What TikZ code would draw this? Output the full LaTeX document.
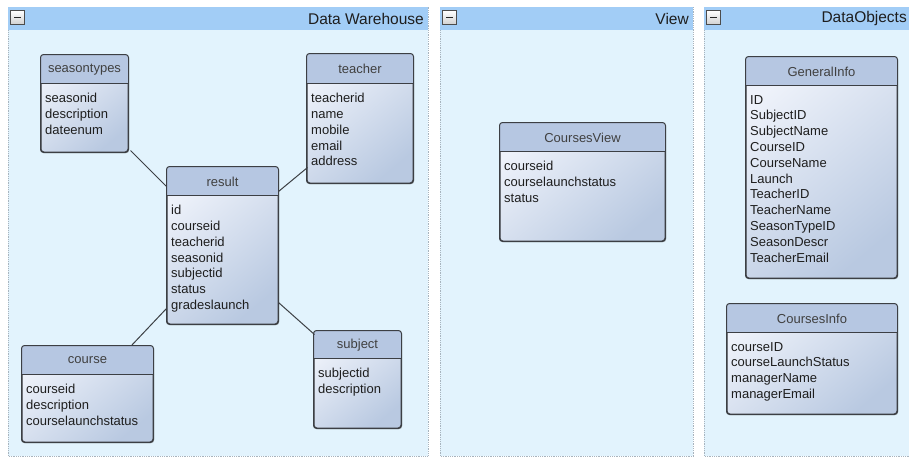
\documentclass[tikz,border=0pt]{standalone}
\usepackage{fontspec}
\setmainfont{Liberation Sans}
\usetikzlibrary{fit,shadows,calc}

\definecolor{panelbg}{HTML}{E2F3FD}
\definecolor{panelhd}{HTML}{A2CDF6}
\definecolor{panelln}{HTML}{A8B4BE}
\definecolor{tblhd}{HTML}{B6C7E2}
\definecolor{tbltop}{HTML}{EEF2FA}
\definecolor{tblbot}{HTML}{B9C9E1}
\definecolor{tblln}{HTML}{3C3F44}
\definecolor{txt}{HTML}{1E1E1E}

\tikzset{
  paneltitle/.style={anchor=east, font=\fontsize{15.5}{18}\selectfont, text=txt, inner sep=0pt},
  tblframe/.style={draw=tblln, line width=1pt, rounded corners=3pt, inner sep=0pt,
    top color=tbltop, bottom color=tblbot, shading angle=40,
    drop shadow={shadow xshift=1.2pt, shadow yshift=-1.2pt, opacity=0.35}},
  tbltitle/.style={font=\fontsize{13}{15}\selectfont, text=txt!85, inner sep=0pt},
  tblfields/.style={anchor=north west, align=left, font=\fontsize{13}{15.8}\selectfont,
    text=txt, inner sep=0pt},
  link/.style={draw=tblln, line width=1pt},
  minusbox/.style={draw=black!70, line width=0.8pt, top color=white, bottom color=black!18,
    minimum size=14pt, inner sep=0pt},
}

% #1 name, #2 left, #3 top, #4 right, #5 header line, #6 bottom, #7 title, #8 fields
\newcommand\dbtable[8]{%
  \coordinate (#1-nw) at (#2,#3);
  \coordinate (#1-se) at (#4,#6);
  \node[tblframe, fit=(#1-nw)(#1-se)] (#1) {};
  \begin{scope}
    \clip[rounded corners=3pt] (#1.north west) rectangle (#1.south east);
    \fill[tblhd] (#1.north west) rectangle (#4,#5);
  \end{scope}
  \draw[tblln, line width=1pt] (#2,#5) -- (#4,#5);
  \draw[tblln, line width=1pt, rounded corners=3pt] (#1.north west) rectangle (#1.south east);
  \node[tbltitle] (#1-title) at ({(#2+#4)/2},{(#3+#5)/2+0.5}) {#7};
  \node[tblfields] (#1-fields) at ({#2+4},{#5+10}) {#8};
}

% #1 name, #2 left, #3 right, #4 title
\newcommand\dbpanel[4]{%
  \fill[panelbg] (#2,7) rectangle (#3,456);
  \draw[panelln, densely dotted, line width=0.8pt] (#2,7) rectangle (#3,456);
  \fill[panelhd] (#2,7) rectangle (#3,29.5);
  \node[minusbox] (#1-btn) at ({#2+9.5},17.5) {};
  \draw[black!85, line width=1.8pt] ({#2+6},17.5) -- ({#2+13},17.5);
  \node[paneltitle] (#1-title) at ({#3-4},18.5) {#4};
}

\begin{document}
\begin{tikzpicture}[x=1pt, y=-1pt]
  \useasboundingbox (0,0) rectangle (909,459);
  \clip (0,0) rectangle (909,459);
  \fill[white] (0,0) rectangle (909,459);

  % panels
  \dbpanel{dw}{8}{428}{Data Warehouse}
  \dbpanel{vw}{440}{693}{View}
  \dbpanel{dobj}{704}{911}{DataObjects}

  % Data Warehouse tables
  \dbtable{seasontypes}{41}{55}{128}{83}{152}{seasontypes}{seasonid\\description\\dateenum}
  \dbtable{teacher}{307}{54}{413}{83}{183}{teacher}{teacherid\\name\\mobile\\email\\address}
  \dbtable{result}{167}{167}{278}{195}{324}{result}{id\\courseid\\teacherid\\seasonid\\subjectid\\status\\gradeslaunch}
  \dbtable{course}{22}{346}{153}{374}{442}{course}{courseid\\description\\courselaunchstatus}
  \dbtable{subject}{314}{331}{401}{358}{428}{subject}{subjectid\\description}

  % View
  \dbtable{coursesview}{500}{123}{665}{151}{241}{CoursesView}{courseid\\courselaunchstatus\\status}

  % DataObjects
  \dbtable{generalinfo}{746}{57}{897}{85}{278}{GeneralInfo}{ID\\SubjectID\\SubjectName\\CourseID\\CourseName\\Launch\\TeacherID\\TeacherName\\SeasonTypeID\\SeasonDescr\\TeacherEmail}
  \dbtable{coursesinfo}{727}{304}{897}{332}{414}{CoursesInfo}{courseID\\courseLaunchStatus\\managerName\\managerEmail}

  % relations
  \draw[link] ([shift={(2,-2)}]seasontypes.south east) -- ([shift={(0,20)}]result.north west);
  \draw[link] ([shift={(1,-16)}]teacher.south west) -- ([shift={(0,25)}]result.north east);
  \draw[link] ([shift={(0,-16)}]result.south west) -- ([shift={(110,0)}]course.north west);
  \draw[link] ([shift={(0,-22)}]result.south east) -- ([shift={(1,4)}]subject.north west);
\end{tikzpicture}
\end{document}
